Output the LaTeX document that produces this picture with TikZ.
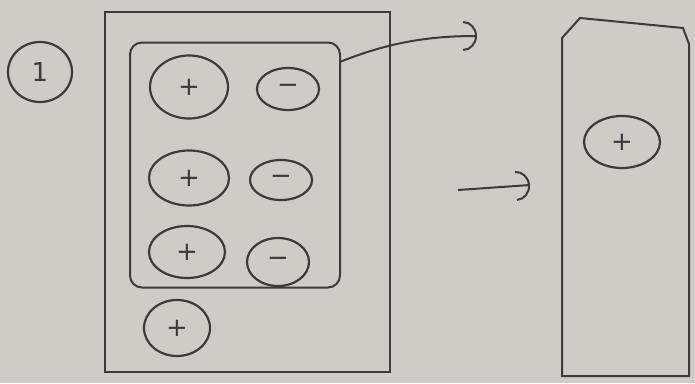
\documentclass[tikz,border=0pt]{standalone}
\usepackage{fontspec}
\setmainfont{DejaVu Sans}
\usetikzlibrary{arrows.meta,shapes.geometric}
\definecolor{paper}{RGB}{207,204,198}
\definecolor{pencil}{RGB}{62,58,55}

\begin{document}
\begin{tikzpicture}[x=1pt, y=-1pt,
  sketchframe/.style={draw=pencil, line width=2pt, inner sep=0pt},
  charge/.style={ellipse, draw=pencil, line width=2.2pt, inner sep=0pt, text=pencil, font=\fontsize{26}{26}\selectfont},
  sketcharrow/.style={draw=pencil, line width=2pt, -{Arc Barb[length=14pt,width=30pt]}}]
  % Paper
  \useasboundingbox (0,0) rectangle (695,383);
  \fill[paper] (0,0) rectangle (695,383);
  % Step number
  \node[charge, minimum width=64pt, minimum height=60pt] (stepnum) at (40,72) {1};
  % Left container
  \node[sketchframe, minimum width=285pt, minimum height=360pt] (outerbox) at (247,192) {};
  \node[sketchframe, rounded corners=12pt, minimum width=210pt, minimum height=245pt] (pairbox) at (235,165) {};
  % Ion pairs
  \node[charge, minimum width=78pt, minimum height=63pt] (plusa) at (189,87) {+};
  \node[charge, minimum width=62pt, minimum height=42pt] (minusa) at (288,89) {−};
  \node[charge, minimum width=80pt, minimum height=55pt] (plusb) at (189,178) {+};
  \node[charge, minimum width=62pt, minimum height=40pt] (minusb) at (281,180) {−};
  \node[charge, minimum width=76pt, minimum height=52pt] (plusc) at (187,252) {+};
  \node[charge, minimum width=62pt, minimum height=48pt] (minusc) at (278,262) {−};
  \node[charge, minimum width=66pt, minimum height=56pt] (plusfree) at (177,328) {+};
  % Right container
  \draw[pencil, line width=2pt] (562,376) -- (562,38) -- (580,18) -- (683,28) -- (689,44) -- (689,376) -- cycle;
  \node[charge, minimum width=76pt, minimum height=52pt] (plusout) at (622,142) {+};
  % Arrows
  \coordinate (toptip) at (477,36);
  \coordinate (gaptail) at (458,190);
  \coordinate (gaphead) at (530,185);
  \draw[sketcharrow] ([yshift=-20pt]pairbox.north east) .. controls (390,42) and (430,36) .. (toptip);
  \draw[sketcharrow] (gaptail) -- (gaphead);
\end{tikzpicture}
\end{document}
